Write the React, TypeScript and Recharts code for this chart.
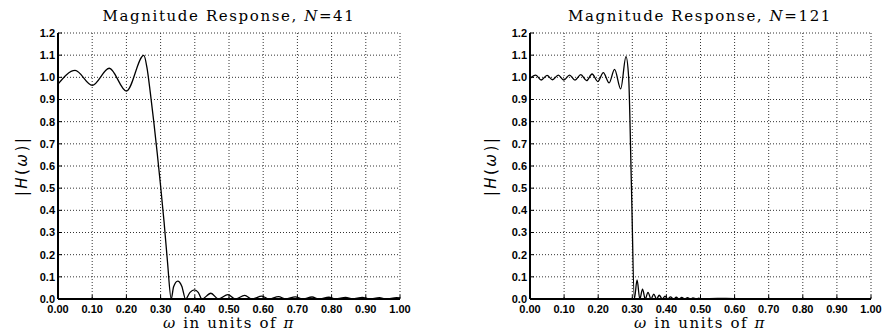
import { CartesianGrid, Line, LineChart, XAxis, YAxis } from "recharts";

// tick positions shared by both panels
const xTicks = [0, 0.1, 0.2, 0.3, 0.4, 0.5, 0.6, 0.7, 0.8, 0.9, 1.0];
const yTicks = [0, 0.1, 0.2, 0.3, 0.4, 0.5, 0.6, 0.7, 0.8, 0.9, 1.0, 1.1, 1.2];

// N = 41 : frequency (units of pi) and |H(w)|
const omega41 = [
  0, 0.05, 0.1, 0.15, 0.2, 0.251, 0.26, 0.27, 0.28, 0.29, 0.3, 0.31, 0.32, 0.331,
  0.338, 0.35, 0.362, 0.373, 0.386, 0.399, 0.41, 0.421, 0.447, 0.469, 0.497, 0.518,
  0.546, 0.567, 0.596, 0.616, 0.645, 0.665, 0.694, 0.714, 0.743, 0.763, 0.792, 0.812,
  0.841, 0.861, 0.89, 0.91, 0.94, 0.959, 0.99, 1.0,
];
const mag41 = [
  0.969, 1.031, 0.964, 1.041, 0.938, 1.099, 1.045, 0.93, 0.8, 0.66, 0.51, 0.35, 0.17, 0.0,
  0.055, 0.081, 0.058, 0.0, 0.03, 0.041, 0.03, 0.0, 0.026, 0.0, 0.02, 0.0,
  0.016, 0.0, 0.013, 0.0, 0.011, 0.0, 0.01, 0.0, 0.009, 0.0, 0.008, 0.0,
  0.007, 0.0, 0.007, 0.0, 0.006, 0.0, 0.006, 0.005,
];

// N = 121
const omega121 = [
  0, 0.017, 0.033, 0.05, 0.066, 0.083, 0.099, 0.116, 0.132, 0.149, 0.166, 0.182,
  0.199, 0.215, 0.232, 0.248, 0.266, 0.2815, 0.2893, 0.2976, 0.306,
  0.314, 0.322, 0.33, 0.338, 0.346, 0.355, 0.363, 0.371, 0.379, 0.388, 0.396, 0.404,
  0.412, 0.421, 0.429, 0.437, 0.445, 0.454, 0.462, 0.47, 0.478, 0.487, 0.495, 0.503,
  0.55, 0.6, 0.7, 0.8, 0.9, 1.0,
];
const mag121 = [
  0.995, 1.01, 0.988, 1.009, 0.989, 1.01, 0.988, 1.01, 0.987, 1.012, 0.985, 1.015,
  0.981, 1.021, 0.975, 1.036, 0.948, 1.093, 1.0, 0.5, 0.0,
  0.086, 0.0, 0.045, 0.0, 0.03, 0.0, 0.022, 0.0, 0.017, 0.0, 0.013, 0.0,
  0.01, 0.0, 0.008, 0.0, 0.007, 0.0, 0.006, 0.0, 0.005, 0.0, 0.004, 0.0,
  0.003, 0.002, 0.002, 0.001, 0.001, 0.001,
];

const rows = (w: number[], m: number[]) => w.map((x, i) => ({ w: x, h: m[i] }));

const tickFont = {
  fontFamily: "Liberation Sans, Arial, sans-serif",
  fontSize: 11,
  fontWeight: 700,
  fill: "#000",
};
const labelFont = "DejaVu Serif, serif";

function Panel({
  data,
  left,
  margin,
}: {
  data: { w: number; h: number }[];
  left: number;
  margin: { top: number; right: number; bottom: number; left: number };
}) {
  return (
    <div style={{ position: "absolute", left, top: 0 }}>
      <LineChart width={441} height={334} data={data} margin={margin}>
        <CartesianGrid
          stroke="#333"
          strokeDasharray="1 2"
          strokeWidth={1}
          horizontalValues={yTicks}
          verticalValues={xTicks}
        />
        <XAxis
          dataKey="w"
          type="number"
          domain={[0, 1]}
          ticks={xTicks}
          tickFormatter={(v: number) => v.toFixed(2)}
          tick={tickFont}
          tickSize={-4}
          tickMargin={10}
          tickLine={{ stroke: "#000" }}
          axisLine={{ stroke: "#000", strokeWidth: 2 }}
          height={35}
          interval={0}
        />
        <XAxis
          xAxisId="top"
          orientation="top"
          dataKey="w"
          type="number"
          domain={[0, 1]}
          ticks={xTicks}
          tick={false}
          tickSize={-4}
          tickLine={{ stroke: "#000" }}
          axisLine={{ stroke: "#000", strokeWidth: 2 }}
          height={0}
        />
        <YAxis
          type="number"
          domain={[0, 1.2]}
          ticks={yTicks}
          tickFormatter={(v: number) => v.toFixed(1)}
          tick={tickFont}
          tickSize={-4}
          tickMargin={7}
          tickLine={{ stroke: "#000" }}
          axisLine={{ stroke: "#000", strokeWidth: 2 }}
          width={58}
          interval={0}
        />
        <YAxis
          yAxisId="right"
          orientation="right"
          type="number"
          domain={[0, 1.2]}
          ticks={yTicks}
          tick={false}
          tickSize={-4}
          tickLine={{ stroke: "#000" }}
          axisLine={{ stroke: "#000", strokeWidth: 2 }}
          width={0}
        />
        <Line
          type="monotone"
          dataKey="h"
          stroke="#000"
          strokeWidth={1.3}
          dot={false}
          isAnimationActive={false}
        />
      </LineChart>
    </div>
  );
}

function Titles() {
  const titleStyle = { fontFamily: labelFont, fontSize: 15, letterSpacing: 1.6 };
  return (
    <svg
      width={882}
      height={334}
      style={{ position: "absolute", left: 0, top: 0, pointerEvents: "none" }}
    >
      <text x={229} y={21} textAnchor="middle" {...titleStyle}>
        Magnitude Response, <tspan fontStyle="italic">N</tspan>=41
      </text>
      <text x={700} y={21} textAnchor="middle" {...titleStyle}>
        Magnitude Response, <tspan fontStyle="italic">N</tspan>=121
      </text>
      <text x={229} y={328} textAnchor="middle" {...titleStyle} letterSpacing={1.6}>
        <tspan fontStyle="italic">ω</tspan> in units of <tspan fontStyle="italic">π</tspan>
      </text>
      <text x={700} y={328} textAnchor="middle" {...titleStyle} letterSpacing={1.6}>
        <tspan fontStyle="italic">ω</tspan> in units of <tspan fontStyle="italic">π</tspan>
      </text>
      {[22, 491].map((x) => (
        <text
          key={x}
          x={x}
          y={166}
          textAnchor="middle"
          dominantBaseline="central"
          transform={`rotate(-90 ${x} 166)`}
          fontFamily="DejaVu Sans, sans-serif"
          fontSize={15}
          letterSpacing={2.5}
        >
          |<tspan fontStyle="italic">H</tspan>(<tspan fontStyle="italic">ω</tspan>)|
        </text>
      ))}
    </svg>
  );
}

export default function App() {
  return (
    <div
      style={{
        position: "absolute",
        left: 0,
        top: 0,
        width: 882,
        height: 334,
        background: "#fff",
      }}
    >
      <Panel data={rows(omega41, mag41)} left={0} margin={{ top: 33, right: 41, bottom: 0, left: 0 }} />
      <Panel data={rows(omega121, mag121)} left={441} margin={{ top: 33, right: 11, bottom: 0, left: 31 }} />
      <Titles />
    </div>
  );
}
